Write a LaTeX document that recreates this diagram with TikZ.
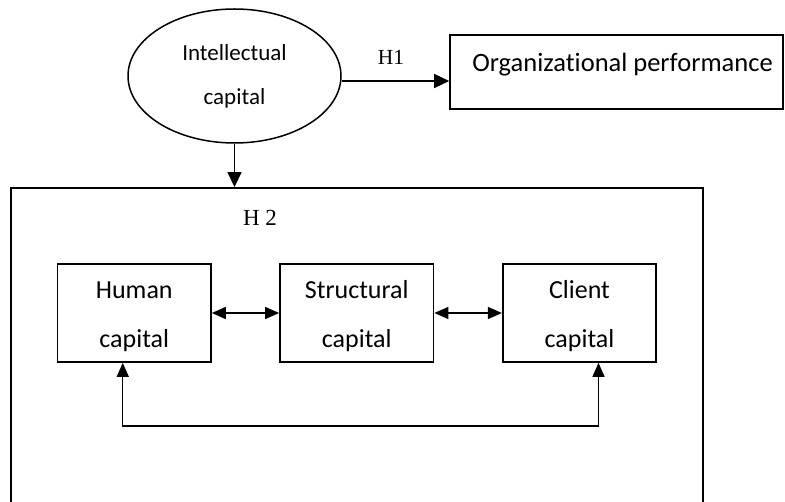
\documentclass[tikz,border=0pt]{standalone}
\usepackage{fontspec}
\setmainfont{Carlito}[Ligatures=NoCommon]
\newfontfamily\serifhyp{Liberation Serif}
\usetikzlibrary{shapes.geometric,arrows.meta}

\tikzset{
  capbox/.style={draw, line width=1.7pt, rectangle, minimum width=153.5pt,
    minimum height=98pt, inner sep=0pt},
  captext/.style={align=center, inner sep=0pt,
    font=\fontsize{26}{49}\selectfont},
  frame/.style={draw, line width=1.8pt, rectangle, inner sep=0pt},
  conn/.style={line width=1.4pt, -{Triangle[length=15pt,width=14pt]}},
  dblconn/.style={line width=1.4pt,
    {Triangle[length=14pt,width=12pt]}-{Triangle[length=14pt,width=12pt]}},
  hyp/.style={font=\serifhyp\fontsize{21.5}{25}\selectfont, inner sep=0pt},
}

\begin{document}
\begin{tikzpicture}[x=1pt, y=-1pt]
  \clip (0,0) rectangle (785,502);

  % top level: intellectual capital and organizational performance
  \node[draw, ellipse, line width=1.5pt, minimum width=213pt, minimum height=134pt,
        inner sep=0pt, align=center, font=\fontsize{23}{44}\selectfont]
        (ell) at (234.5,76) {Intellectual\\capital};
  \node[frame, line width=1.6pt, minimum width=333pt, minimum height=74pt] (org) at (616.5,72) {};
  \node[anchor=base, font=\fontsize{26.5}{30}\selectfont, inner sep=0pt] (orgt) at (622.5,72)
        {Organizational performance};

  \coordinate (h1y) at (0,81);
  \draw[conn] (ell.east |- h1y) -- (org.west |- h1y);
  \node[hyp] (h1) at (391,57) {H1};

  % the three components inside the large frame
  \node[frame, minimum width=692pt, minimum height=340pt] (big) at (357,358) {};
  \draw[conn] (ell.south) -- (ell.south |- big.north);
  \node[hyp, font=\serifhyp\fontsize{23}{26}\selectfont] (h2) at (260,218) {H 2};

  \node[capbox] (hum) at (134.25,313) {};
  \node[capbox] (str) at (356.75,313) {};
  \node[capbox] (cli) at (579.5,313) {};
  \node[captext] (humt) at ([yshift=-3.5pt]hum.center) {Human\\capital};
  \node[captext] (strt) at ([yshift=-3.5pt]str.center) {Structural\\capital};
  \node[captext] (clit) at ([yshift=-3.5pt]cli.center) {Client\\capital};

  \draw[dblconn] (hum.east) -- (str.west);
  \draw[dblconn] (str.east) -- (cli.west);

  \coordinate (ha) at ([xshift=-11.5pt]hum.south);
  \coordinate (cb) at ([xshift=19pt]cli.south);
  \coordinate (loop) at (0,426);
  \draw[dblconn] (ha) -- (ha |- loop) -| (cb);
\end{tikzpicture}
\end{document}
